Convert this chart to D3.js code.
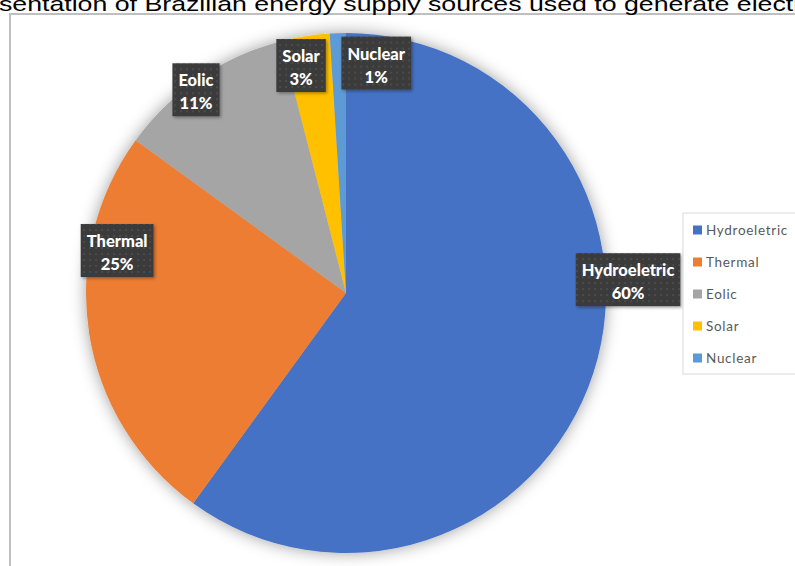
<!DOCTYPE html>
<html>
<head>
<meta charset="utf-8">
<script src="https://cdn.jsdelivr.net/npm/d3@7/dist/d3.min.js"></script>
<style>
  html, body { margin: 0; padding: 0; background: #fff; overflow: hidden; }
  svg { display: block; }
</style>
</head>
<body>
<svg id="chart" width="795" height="566"></svg>
<script>
// Shares of Brazilian electricity generation by source (%)
const sources = ["Hydroeletric", "Thermal", "Eolic", "Solar", "Nuclear"];
const shares = [60, 25, 11, 3, 1];
const sliceColors = ["#4472C4", "#ED7D31", "#A5A5A5", "#FFC000", "#5B9BD5"];
const titleText = "Representation of Brazilian energy supply sources used to generate electricity";

// Label placement around the pie: angle (degrees, clockwise from 12 o'clock) and radius factor
const labelAngles = [87.4, 280.4, 323.5, 348.8, 7.5];
const labelRadii = [1.086, 0.895, 0.97, 0.89, 0.89];

const W = 795, H = 566;
const svg = d3.select("#chart");
const defs = svg.append("defs");

// soft glow behind the pie
const glow = defs.append("filter").attr("id", "pieShadow")
  .attr("x", "-20%").attr("y", "-20%").attr("width", "140%").attr("height", "140%");
glow.append("feDropShadow").attr("dx", 0).attr("dy", 0).attr("stdDeviation", 8)
  .attr("flood-color", "#000").attr("flood-opacity", 0.38);

// shadow for label boxes
const boxShadow = defs.append("filter").attr("id", "boxShadow")
  .attr("x", "-20%").attr("y", "-20%").attr("width", "150%").attr("height", "150%");
boxShadow.append("feDropShadow").attr("dx", 1.5).attr("dy", 1.5).attr("stdDeviation", 1.5)
  .attr("flood-color", "#000").attr("flood-opacity", 0.35);

// dotted dark texture of label boxes
const pat = defs.append("pattern").attr("id", "dots")
  .attr("width", 6).attr("height", 6).attr("patternUnits", "userSpaceOnUse");
pat.append("rect").attr("width", 6).attr("height", 6).attr("fill", "#3b3b3b");
pat.append("circle").attr("cx", 3).attr("cy", 3).attr("r", 0.8).attr("fill", "#5e5e5e");

// chart frame
svg.append("rect")
  .attr("x", 10).attr("y", 14).attr("width", W + 20).attr("height", H + 20)
  .attr("fill", "#fff").attr("stroke", "#bfbfbf").attr("stroke-width", 2);

// title, wider than the frame so it runs off both sides (slightly widened glyphs)
const titleFont = "Liberation Sans, Arial, sans-serif";
const titleSize = 21;
const titleG = svg.append("g");
const probe = titleG.append("text").attr("font-family", titleFont).attr("font-size", titleSize);
const leadW = probe.text("Repre").node().getComputedTextLength();
const midW = probe.text("sentation of Brazilian energy supply sources used to generate elect").node().getComputedTextLength();
probe.remove();
const sx = 795 / midW;
titleG.attr("transform", `translate(-1,11) scale(${sx},1)`)
  .append("text")
  .attr("x", -leadW).attr("y", 0)
  .attr("font-family", titleFont).attr("font-size", titleSize)
  .attr("fill", "#000")
  .text(titleText);

// pie
const cx = 346, cy = 293, R = 260;
const data = sources.map((s, i) => ({ name: s, value: shares[i], color: sliceColors[i] }));
const pie = d3.pie().value(d => d.value).sort(null);
const arcs = pie(data);
const arc = d3.arc().innerRadius(0).outerRadius(R);

const pieG = svg.append("g").attr("transform", `translate(${cx},${cy})`);
pieG.append("g").attr("filter", "url(#pieShadow)")
  .selectAll("path").data(arcs).join("path")
  .attr("d", arc)
  .attr("fill", d => d.data.color);

// data labels
const labelFont = "Lato, 'Open Sans', sans-serif";
const labels = pieG.selectAll("g.lbl").data(arcs).join("g").attr("class", "lbl")
  .attr("transform", (d, i) => {
    const a = labelAngles[i] * Math.PI / 180;
    const r = R * labelRadii[i];
    return `translate(${r * Math.sin(a)},${-r * Math.cos(a)})`;
  });

labels.each(function (d) {
  const g = d3.select(this);
  const t1 = g.append("text").attr("text-anchor", "middle").attr("y", -4)
    .attr("font-family", labelFont).attr("font-weight", 900).attr("font-size", 16.5)
    .attr("fill", "#fff").text(d.data.name);
  const t2 = g.append("text").attr("text-anchor", "middle").attr("y", 19)
    .attr("font-family", labelFont).attr("font-weight", 900).attr("font-size", 16.5)
    .attr("fill", "#fff").text(d3.format("d")(d.data.value) + "%");
  const w = Math.max(t1.node().getComputedTextLength(), t2.node().getComputedTextLength()) + 12;
  g.insert("rect", "text")
    .attr("x", -w / 2).attr("y", -27).attr("width", w).attr("height", 53)
    .attr("fill", "url(#dots)").attr("filter", "url(#boxShadow)");
});

// legend
const legG = svg.append("g").attr("transform", "translate(683,213)");
legG.append("rect").attr("x", 0).attr("y", 0).attr("width", 130).attr("height", 161)
  .attr("fill", "#fff").attr("stroke", "#d9d9d9").attr("stroke-width", 1);
const legY = d3.scalePoint().domain(sources).range([17, 145]);
const items = legG.selectAll("g.item").data(data).join("g").attr("class", "item")
  .attr("transform", d => `translate(0,${legY(d.name)})`);
items.append("rect").attr("x", 10).attr("y", -4.5).attr("width", 9).attr("height", 9)
  .attr("fill", d => d.color);
items.append("text").attr("x", 23).attr("y", 5)
  .attr("font-family", labelFont).attr("font-size", 13.5).attr("letter-spacing", 0.7)
  .attr("fill", "#595959").text(d => d.name);
</script>
</body>
</html>
